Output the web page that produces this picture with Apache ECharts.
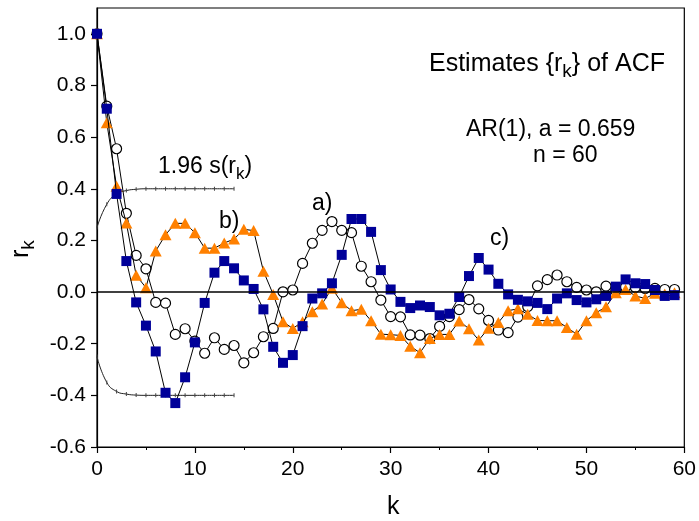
<!DOCTYPE html>
<html>
<head>
<meta charset="utf-8">
<script src="https://cdn.jsdelivr.net/npm/echarts@6/dist/echarts.min.js"></script>
<style>
html,body{margin:0;padding:0;background:#fff;}
#chart{width:699px;height:521px;}
</style>
</head>
<body>
<div id="chart"></div>
<script>
// lag k
const lags = [0,1,2,3,4,5,6,7,8,9,10,11,12,13,14,15,16,17,18,19,20,21,22,23,24,25,26,27,28,29,
  30,31,32,33,34,35,36,37,38,39,40,41,42,43,44,45,46,47,48,49,50,51,52,53,54,55,56,57,58,59];
// open circles
const seriesCircle = [1.0,0.72,0.555,0.305,0.142,0.09,-0.04,-0.043,-0.164,-0.142,-0.19,-0.237,-0.177,-0.222,-0.207,
  -0.274,-0.235,-0.173,-0.141,0.001,0.008,0.111,0.189,0.239,0.273,0.239,0.23,0.10,0.04,-0.031,
  -0.095,-0.096,-0.166,-0.167,-0.18,-0.133,-0.095,-0.068,-0.029,-0.065,-0.11,-0.147,-0.157,-0.097,-0.056,
  0.024,0.048,0.066,0.04,0.018,0.008,0.001,0.023,0.005,0.02,0.018,0.014,0.014,0.01,0.01];
// orange triangles
const seriesTriangle = [1.0,0.656,0.41,0.267,0.065,0.017,0.159,0.222,0.266,0.266,0.23,0.17,0.17,0.19,0.205,
  0.243,0.238,0.081,-0.009,-0.115,-0.141,-0.115,-0.076,-0.046,0.015,-0.041,-0.072,-0.067,-0.111,-0.163,
  -0.165,-0.168,-0.21,-0.235,-0.18,-0.164,-0.164,-0.112,-0.142,-0.186,-0.14,-0.118,-0.072,-0.065,-0.086,
  -0.11,-0.111,-0.111,-0.137,-0.163,-0.111,-0.08,-0.057,-0.003,0.01,-0.015,-0.025,-0.005,-0.008,-0.003];
// blue squares
const seriesSquare = [1.0,0.71,0.38,0.12,-0.04,-0.13,-0.23,-0.39,-0.43,-0.33,-0.195,-0.042,0.075,0.12,0.092,
  0.045,0.012,-0.067,-0.212,-0.274,-0.244,-0.132,-0.025,-0.005,0.034,0.144,0.283,0.283,0.233,0.085,
  0.01,-0.038,-0.062,-0.052,-0.058,-0.09,-0.084,-0.019,0.062,0.132,0.087,0.032,-0.009,-0.03,-0.036,
  -0.042,-0.066,-0.025,-0.005,-0.031,-0.04,-0.028,-0.015,0.021,0.049,0.034,0.031,0.008,-0.015,-0.012];
// 1.96 s(r_k) band
const bandLags = [0,1,2,3,4,5,6,7,8,9,10,11,12,13,14];
const bandUpper = [0.25,0.34,0.38,0.393,0.398,0.40,0.40,0.40,0.40,0.40,0.40,0.40,0.40,0.40,0.40];
const bandLower = [-0.25,-0.35,-0.385,-0.395,-0.399,-0.40,-0.40,-0.40,-0.40,-0.40,-0.40,-0.40,-0.40,-0.40,-0.40];
// axis ticks
const xTicks = {min: 0, max: 60, step: 10};
const yTicks = {min: -0.6, max: 1.1, step: 0.2};

const FONT = '"Liberation Sans", Arial, sans-serif';
const mctx = document.createElement('canvas').getContext('2d');
function tw(t, fs){ mctx.font = fs + 'px ' + FONT; return mctx.measureText(t).width; }
// build text with subscripts: parts = [[text, isSub], ...]
function subText(x, y, parts, fs){
  const els = [];
  let cx = x;
  const sfs = Math.round(fs * 0.75);
  parts.forEach(p => {
    const f = p[1] ? sfs : fs;
    els.push({type:'text', x: cx, y: y + (p[1] ? fs*0.3 : 0), silent:true,
      style:{text:p[0], font: f + 'px ' + FONT, fill:'#000', align:'left', verticalAlign:'middle'}});
    cx += tw(p[0], f);
  });
  return els;
}
function pairs(xs, ys){ return ys.map((v,i)=>[xs[i], v]); }

const chart = echarts.init(document.getElementById('chart'), null, {renderer:'canvas'});
const ANN = 23;
const graphics = [].concat(
  subText(429, 64, [['Estimates {r',0],['k',1],['} of ACF',0]], 25),
  subText(466, 130, [['AR(1), a = 0.659',0]], ANN),
  subText(533, 156, [['n = 60',0]], ANN),
  subText(158, 167, [['1.96 s(r',0],['k',1],[')',0]], ANN),
  subText(219, 222, [['b)',0]], ANN),
  subText(312, 204, [['a)',0]], ANN),
  subText(490, 239, [['c)',0]], ANN),
  [{type:'group', x: 21, y: 258, rotation: Math.PI/2, children: subText(0, 0, [['r',0],['k',1]], 25)}],
  subText(387, 507, [['k',0]], 25)
);

const lineStyleBlack = {color:'#000', width:1};
const option = {
  animation:false,
  backgroundColor:'#fff',
  grid:{left:97, right:12, top:8, bottom:74, show:true, borderColor:'#000', borderWidth:1.2, containLabel:false},
  xAxis:{type:'value', min:xTicks.min, max:xTicks.max, interval:xTicks.step,
    axisLine:{show:true, onZero:false, lineStyle:{color:'#000', width:1.2}},
    axisTick:{show:true, inside:false, length:6, lineStyle:{color:'#000', width:1.2}},
    minorTick:{show:true, splitNumber:2, length:3, lineStyle:{color:'#000', width:1}},
    splitLine:{show:false},
    axisLabel:{color:'#000', fontSize:21, fontFamily:FONT, margin:12}
  },
  yAxis:{type:'value', min:yTicks.min, max:yTicks.max, interval:yTicks.step,
    axisLine:{show:true, onZero:false, lineStyle:{color:'#000', width:1.2}},
    axisTick:{show:true, inside:false, length:6, lineStyle:{color:'#000', width:1.2}},
    splitLine:{show:false},
    axisLabel:{color:'#000', fontSize:21, fontFamily:FONT, margin:11, showMaxLabel:false,
      formatter: v => (Math.abs(v) < 1e-9 ? 0 : v).toFixed(1)}
  },
  graphic: graphics,
  series:[
    {type:'line', name:'upper', data:pairs(bandLags, bandUpper), smooth:0.5, symbol:'rect', symbolSize:[1,4],
      itemStyle:{color:'#444'}, lineStyle:{color:'#222', width:1}, z:1, silent:true},
    {type:'line', name:'lower', data:pairs(bandLags, bandLower), smooth:0.5, symbol:'rect', symbolSize:[1,4],
      itemStyle:{color:'#444'}, lineStyle:{color:'#222', width:1}, z:1, silent:true},
    {type:'line', name:'circles', data:pairs(lags, seriesCircle), symbol:'circle', symbolSize:10,
      itemStyle:{color:'#fff', borderColor:'#000', borderWidth:1.2}, lineStyle:lineStyleBlack, z:2,
      markLine:{silent:true, symbol:'none', label:{show:false}, lineStyle:{color:'#000', width:1.6, type:'solid'},
        data:[{yAxis:0}]}},
    {type:'line', name:'triangles', data:pairs(lags, seriesTriangle), symbol:'triangle', symbolSize:[12,11],
      itemStyle:{color:'#ff8000', borderWidth:0}, lineStyle:lineStyleBlack, z:3},
    {type:'line', name:'squares', data:pairs(lags, seriesSquare), symbol:'rect', symbolSize:10,
      itemStyle:{color:'#000099', borderWidth:0}, lineStyle:lineStyleBlack, z:4}
  ]
};
chart.setOption(option);
</script>
</body>
</html>
